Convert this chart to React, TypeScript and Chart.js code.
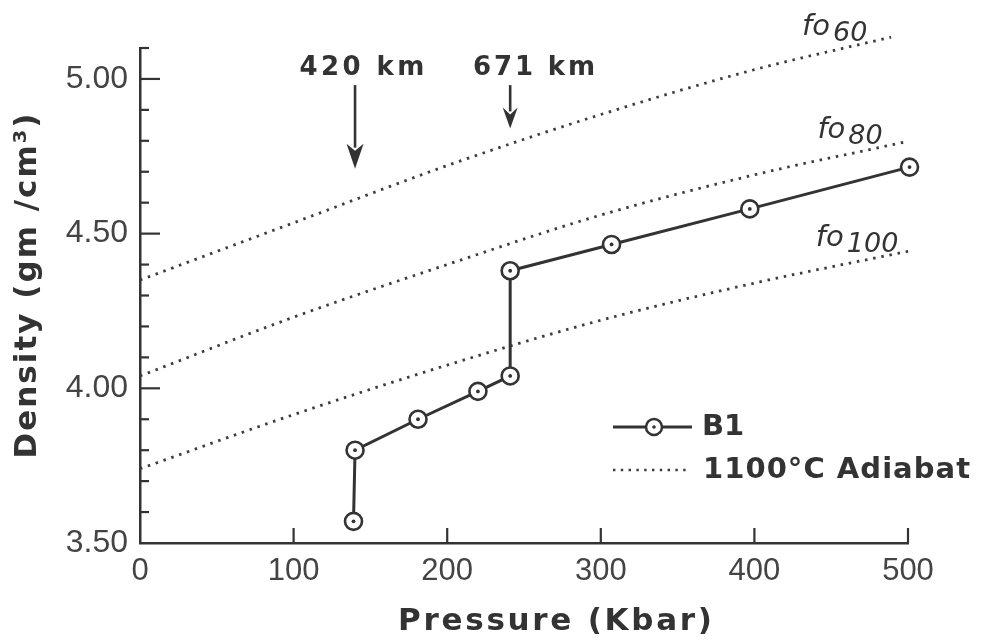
import React, { useEffect, useRef } from "react";
import { Chart, registerables } from "chart.js";

Chart.register(...registerables);

// ---- data ----
const b1Pressure = [139, 140, 181, 220, 241, 241, 307, 397, 501];
const b1Density = [3.57, 3.8, 3.9, 3.99, 4.04, 4.38, 4.465, 4.58, 4.715];

const fo60Pressure = [0, 100, 200, 300, 400, 489];
const fo60Density = [4.35, 4.535, 4.72, 4.885, 5.03, 5.135];
const fo80Pressure = [0, 100, 200, 300, 400, 497];
const fo80Density = [4.04, 4.23, 4.4, 4.56, 4.69, 4.795];
const fo100Pressure = [0, 100, 200, 300, 400, 502];
const fo100Density = [3.74, 3.915, 4.075, 4.22, 4.34, 4.445];

const yMajorTicks = [3.5, 4.0, 4.5, 5.0];

const depthLabels = ["420 km", "671 km"];
const depthArrowPressure = [140, 241];
const depthArrowTipDensity = [4.71, 4.84];
const depthLabelPressure = [144.5, 256.5];
const depthLabelDensity = [5.035, 5.035];

const foSubscripts = ["60", "80", "100"];
const foLabelPressure = [431, 441, 440];
const foLabelDensity = [5.165, 4.832, 4.484];

const INK = "#333333";
const DOT = "#3c3c3c";
const TITLE_FONT = '"DejaVu Sans", "Noto Sans", sans-serif';
const ITALIC_FONT = '"DejaVu Sans", "Noto Sans", sans-serif';
const TICK_FONT = '"Liberation Sans", Arial, sans-serif';

function fitText(
  ctx: CanvasRenderingContext2D,
  text: string,
  x: number,
  y: number,
  font: string,
  targetWidth: number | null,
  align: "left" | "center"
): number {
  ctx.font = font;
  (ctx as any).letterSpacing = "0px";
  const w = ctx.measureText(text).width;
  let spacing = 0;
  let total = w;
  if (targetWidth !== null && text.length > 1) {
    spacing = (targetWidth - w) / (text.length - 1);
    total = targetWidth;
  }
  (ctx as any).letterSpacing = spacing + "px";
  ctx.textAlign = "left";
  ctx.textBaseline = "middle";
  const startX = align === "center" ? x - total / 2 : x;
  ctx.fillText(text, startX, y);
  (ctx as any).letterSpacing = "0px";
  return total;
}

const decorPlugin = {
  id: "figureDecor",
  afterDraw(chart: any) {
    const ctx: CanvasRenderingContext2D = chart.ctx;
    const xs = chart.scales.x;
    const ys = chart.scales.y;
    const area = chart.chartArea;
    ctx.save();

    // inward tick marks
    ctx.strokeStyle = INK;
    ctx.lineWidth = 2.2;
    ctx.lineCap = "butt";
    ys.ticks.forEach((t: any) => {
      const py = ys.getPixelForValue(t.value);
      const major = yMajorTicks.some((m) => Math.abs(m - t.value) < 1e-6);
      if (Math.abs(t.value - 3.5) < 1e-6) return;
      const len = major ? 20 : 9;
      ctx.beginPath();
      ctx.moveTo(area.left, py);
      ctx.lineTo(area.left + len, py);
      ctx.stroke();
    });
    xs.ticks.forEach((t: any) => {
      if (t.value === 0) return;
      const px = xs.getPixelForValue(t.value);
      ctx.beginPath();
      ctx.moveTo(px, area.bottom);
      ctx.lineTo(px, area.bottom - 15);
      ctx.stroke();
    });

    ctx.fillStyle = INK;

    // axis titles
    fitText(ctx, "Pressure (Kbar)", 555, 622, `bold 31px ${TITLE_FONT}`, 314, "center");
    ctx.save();
    ctx.translate(28, 286);
    ctx.rotate(-Math.PI / 2);
    fitText(ctx, "Density (gm /cm³)", 0, 0, `bold 31px ${TITLE_FONT}`, 345, "center");
    ctx.restore();

    // depth markers
    depthLabels.forEach((label, i) => {
      const tx = xs.getPixelForValue(depthLabelPressure[i]);
      const ty = ys.getPixelForValue(depthLabelDensity[i]);
      fitText(ctx, label, tx, ty, `bold 26px ${TITLE_FONT}`, i === 0 ? 125 : 122, "center");
      const ax = xs.getPixelForValue(depthArrowPressure[i]);
      const tip = ys.getPixelForValue(depthArrowTipDensity[i]);
      const top = ty + 17;
      const headLen = i === 0 ? 25 : 21;
      const headHalf = i === 0 ? 8.5 : 7.5;
      ctx.lineWidth = 2.6;
      ctx.beginPath();
      ctx.moveTo(ax, top);
      ctx.lineTo(ax, tip - headLen + 4);
      ctx.stroke();
      ctx.beginPath();
      ctx.moveTo(ax, tip);
      ctx.lineTo(ax - headHalf, tip - headLen);
      ctx.lineTo(ax, tip - headLen + 7);
      ctx.lineTo(ax + headHalf, tip - headLen);
      ctx.closePath();
      ctx.fill();
    });

    // fo labels
    foSubscripts.forEach((sub, i) => {
      const lx = xs.getPixelForValue(foLabelPressure[i]);
      const ly = ys.getPixelForValue(foLabelDensity[i]);
      const w = fitText(ctx, "fo", lx, ly, `italic 29px ${ITALIC_FONT}`, null, "left");
      fitText(ctx, sub, lx + w + 3, ly + 6, `italic 27px ${ITALIC_FONT}`, null, "left");
    });

    // legend
    const lgY1 = 427;
    const lgY2 = 470;
    ctx.strokeStyle = INK;
    ctx.lineWidth = 3;
    ctx.setLineDash([]);
    ctx.beginPath();
    ctx.moveTo(613, lgY1);
    ctx.lineTo(692, lgY1);
    ctx.stroke();
    ctx.fillStyle = "#ffffff";
    ctx.lineWidth = 2.5;
    ctx.beginPath();
    ctx.arc(654, lgY1, 8, 0, Math.PI * 2);
    ctx.fill();
    ctx.stroke();
    ctx.fillStyle = INK;
    ctx.beginPath();
    ctx.arc(654, lgY1, 1.8, 0, Math.PI * 2);
    ctx.fill();
    fitText(ctx, "B1", 702, lgY1, `bold 29px ${TITLE_FONT}`, null, "left");

    ctx.strokeStyle = DOT;
    ctx.lineWidth = 2.6;
    ctx.setLineDash([2.4, 5.4]);
    ctx.beginPath();
    ctx.moveTo(613, lgY2);
    ctx.lineTo(688, lgY2);
    ctx.stroke();
    ctx.setLineDash([]);
    ctx.fillStyle = INK;
    fitText(ctx, "1100°C Adiabat", 703, lgY2, `bold 29px ${TITLE_FONT}`, 267, "left");

    ctx.restore();
  },
};

function toPoints(xsArr: number[], ysArr: number[]) {
  return xsArr.map((x, i) => ({ x, y: ysArr[i] }));
}

export default function App() {
  const canvasRef = useRef<HTMLCanvasElement | null>(null);

  useEffect(() => {
    if (!canvasRef.current) return;
    const adiabat = (label: string, px: number[], dy: number[]) => ({
      label,
      data: toPoints(px, dy),
      showLine: true,
      borderColor: DOT,
      borderWidth: 2.8,
      borderDash: [2.5, 5.8],
      borderCapStyle: "butt" as const,
      pointRadius: 0,
      cubicInterpolationMode: "monotone" as const,
      fill: false,
      clip: false as const,
      order: 3,
    });
    const chart = new Chart(canvasRef.current, {
      type: "scatter",
      data: {
        datasets: [
          {
            label: "B1 centre",
            data: toPoints(b1Pressure, b1Density),
            showLine: false,
            pointRadius: 1.9,
            pointBackgroundColor: INK,
            pointBorderWidth: 0,
            clip: false as const,
            order: 0,
          },
          {
            label: "B1",
            data: toPoints(b1Pressure, b1Density),
            showLine: true,
            borderColor: INK,
            borderWidth: 3,
            tension: 0,
            pointRadius: 8.5,
            pointBackgroundColor: "#ffffff",
            pointBorderColor: INK,
            pointBorderWidth: 2.6,
            clip: false as const,
            order: 1,
          },
          adiabat("fo60", fo60Pressure, fo60Density),
          adiabat("fo80", fo80Pressure, fo80Density),
          adiabat("fo100", fo100Pressure, fo100Density),
        ],
      },
      options: {
        animation: false,
        responsive: true,
        maintainAspectRatio: false,
        layout: { padding: { left: 0, right: 74, top: 48, bottom: 0 } },
        plugins: {
          legend: { display: false },
          tooltip: { enabled: false },
        },
        scales: {
          x: {
            type: "linear",
            min: 0,
            max: 500,
            ticks: {
              stepSize: 100,
              autoSkip: false,
              maxRotation: 0,
              padding: 10,
              color: "#444",
              font: { family: TICK_FONT, size: 31 },
              callback: (v: any) => String(v),
            },
            grid: { display: true, drawOnChartArea: false, drawTicks: false },
            border: { display: true, color: INK, width: 2.5 },
            afterFit: (s: any) => {
              s.height = 98;
            },
          },
          y: {
            type: "linear",
            min: 3.5,
            max: 5.1,
            ticks: {
              stepSize: 0.1,
              autoSkip: false,
              padding: 12,
              color: "#444",
              font: { family: TICK_FONT, size: 32 },
              callback: (v: any) =>
                yMajorTicks.some((m) => Math.abs(m - Number(v)) < 1e-6)
                  ? Number(v).toFixed(2)
                  : "",
            },
            grid: { display: true, drawOnChartArea: false, drawTicks: false },
            border: { display: true, color: INK, width: 2.5 },
            afterFit: (s: any) => {
              s.width = 140;
            },
          },
        },
      },
      plugins: [decorPlugin],
    });
    return () => chart.destroy();
  }, []);

  return (
    <div
      style={{
        position: "fixed",
        left: 0,
        top: 0,
        width: 982,
        height: 641,
        background: "#ffffff",
      }}
    >
      <canvas ref={canvasRef} />
    </div>
  );
}
